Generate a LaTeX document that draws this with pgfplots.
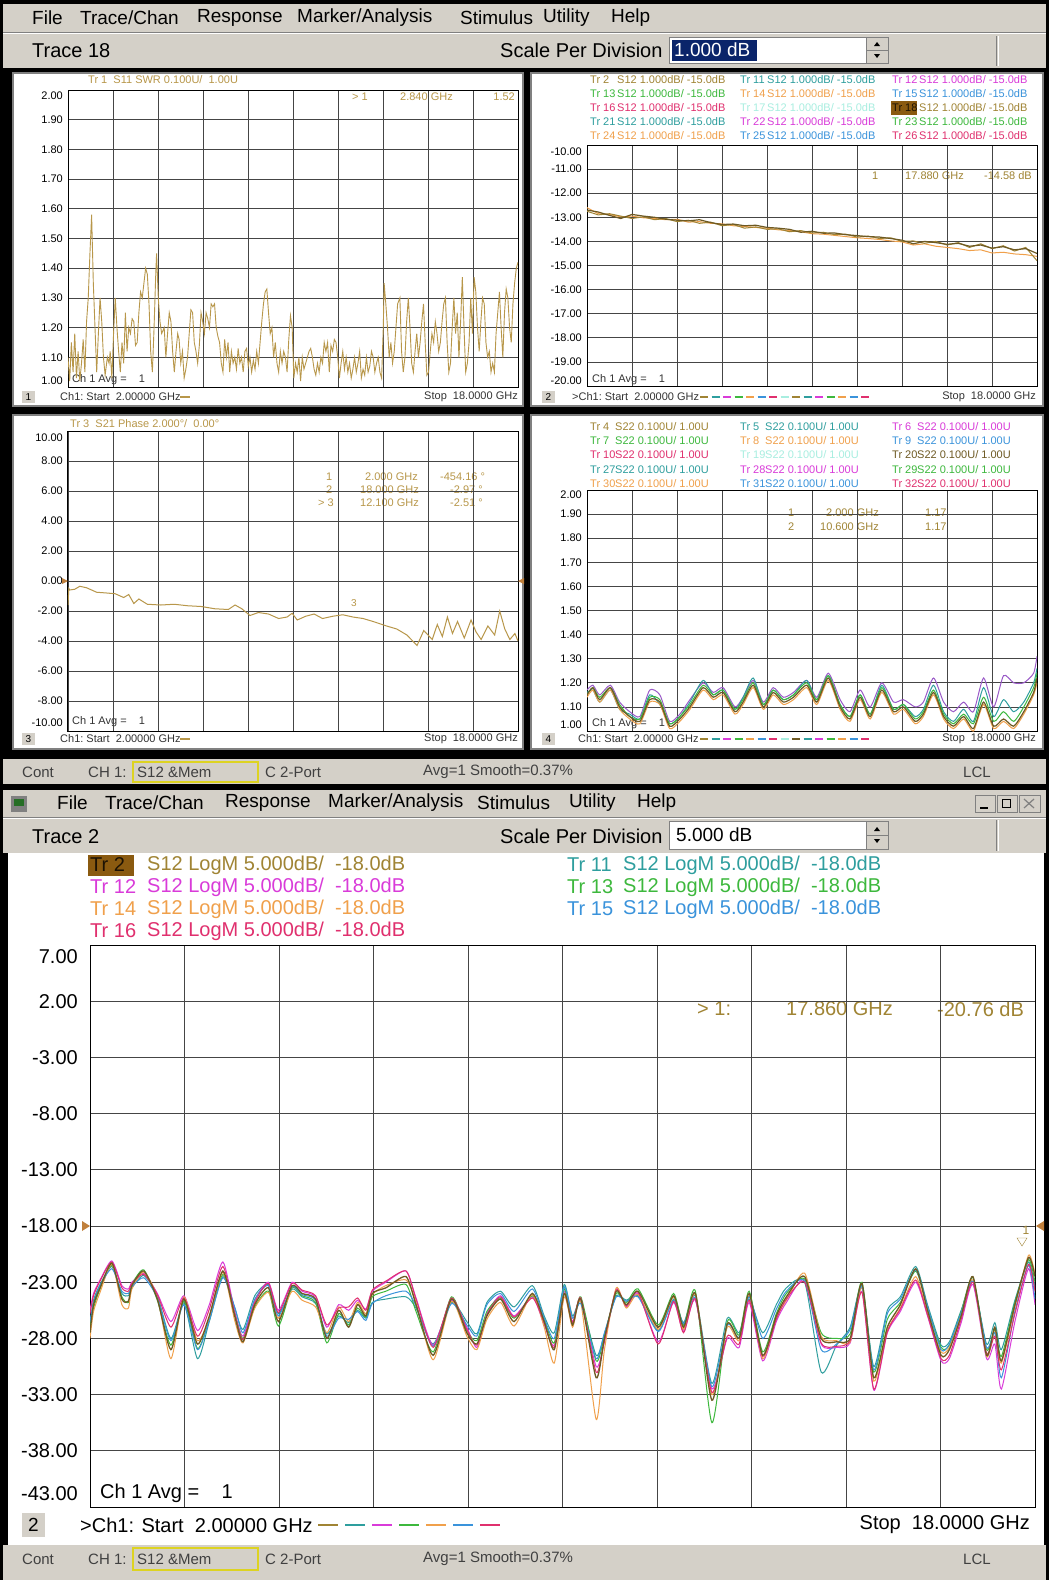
\documentclass[border=0pt]{standalone}
\usepackage{pgfplots}
\pgfplotsset{compat=1.18}
\usepackage{pgfplotstable}
\usepackage{fontspec}
\setmainfont{Liberation Sans}
\newcommand\fs[1]{\fontsize{#1}{#1}\selectfont}
\definecolor{ui}{HTML}{D4D0C8}
\definecolor{uidark}{HTML}{808080}
\definecolor{gridc}{HTML}{454545}
\definecolor{cbrown}{HTML}{A08434}
\definecolor{cdbrown}{HTML}{6E5A24}
\definecolor{cteal}{HTML}{2E9E9E}
\definecolor{cmag}{HTML}{D93BD9}
\definecolor{cgreen}{HTML}{3DB83D}
\definecolor{corange}{HTML}{F0A04B}
\definecolor{cblue}{HTML}{3A93DB}
\definecolor{ccrim}{HTML}{E0306E}
\definecolor{cpale}{HTML}{A8EEE0}
\definecolor{cpurple}{HTML}{9A5AC8}
\definecolor{ctrace}{HTML}{B8974A}
\definecolor{hibrown}{HTML}{8A5A10}
\definecolor{selblue}{HTML}{0A246A}

% ---- bottom chart: S12 LogM traces (GHz, dB) ----
\pgfplotstableread{
x a b c d e f g
2.00 -27.5 -26.8 -25.5 -27.0 -28.0 -26.5 -25.8
2.06 -25.0 -24.6 -24.0 -25.3 -25.6 -24.8 -24.2
2.17 -23.5 -23.2 -22.8 -23.6 -23.9 -23.3 -22.9
2.37 -21.3 -21.6 -21.1 -21.5 -21.4 -21.8 -21.2
2.54 -24.5 -24.0 -23.3 -24.3 -25.0 -23.8 -23.5
2.65 -24.7 -24.2 -23.6 -24.8 -25.3 -24.0 -23.8
2.71 -23.3 -23.5 -23.0 -23.2 -23.6 -23.4 -23.1
2.91 -22.0 -22.4 -22.2 -21.9 -22.1 -22.6 -22.3
3.14 -24.5 -24.2 -24.0 -24.6 -24.3 -24.4 -24.1
3.37 -29.0 -28.0 -26.5 -28.6 -29.8 -28.2 -27.0
3.59 -24.5 -24.9 -24.2 -24.7 -24.3 -25.0 -24.4
3.82 -28.5 -29.8 -27.3 -28.9 -28.2 -29.0 -27.8
4.02 -26.0 -26.5 -25.0 -26.3 -26.2 -26.4 -25.4
4.25 -22.0 -22.5 -21.2 -22.3 -22.1 -22.6 -21.6
4.45 -26.0 -25.3 -25.6 -25.8 -26.4 -25.2 -25.8
4.59 -28.3 -27.2 -27.8 -28.0 -28.4 -27.5 -28.1
4.79 -25.0 -24.2 -24.6 -25.2 -25.3 -24.5 -24.8
5.02 -23.5 -23.2 -23.0 -23.8 -23.9 -23.3 -23.1
5.19 -26.5 -25.8 -25.5 -26.9 -26.2 -26.0 -25.7
5.42 -23.3 -23.6 -23.0 -23.5 -23.8 -23.4 -23.1
5.59 -24.0 -24.3 -23.8 -24.2 -24.6 -24.1 -23.7
5.82 -24.5 -24.9 -24.3 -24.8 -25.2 -24.6 -24.2
6.01 -28.0 -27.6 -27.0 -28.4 -27.5 -27.8 -26.8
6.21 -25.5 -26.0 -25.0 -25.8 -25.2 -26.2 -25.3
6.38 -27.0 -26.6 -25.5 -26.8 -26.5 -26.3 -25.2
6.53 -25.0 -25.5 -24.6 -25.3 -24.8 -25.6 -24.4
6.67 -26.0 -26.2 -25.4 -26.1 -25.8 -26.4 -25.5
6.78 -24.0 -24.8 -23.8 -24.3 -24.1 -24.9 -23.7
7.01 -23.5 -24.5 -23.0 -23.8 -23.3 -24.2 -22.9
7.35 -22.5 -24.3 -22.0 -23.2 -22.8 -23.8 -22.0
7.52 -25.0 -25.3 -24.4 -25.6 -24.8 -25.1 -24.5
7.81 -29.5 -28.5 -28.6 -29.2 -29.9 -28.7 -28.8
8.12 -24.5 -24.8 -24.6 -24.3 -24.7 -24.9 -24.4
8.38 -27.5 -26.5 -27.0 -27.3 -27.8 -26.8 -27.2
8.55 -28.5 -27.6 -28.8 -28.2 -29.0 -27.8 -28.6
8.72 -26.0 -24.8 -25.8 -25.6 -26.3 -25.0 -25.9
8.95 -24.5 -23.8 -24.2 -24.4 -24.8 -24.0 -24.3
9.18 -26.5 -25.2 -26.0 -26.2 -26.9 -25.6 -26.1
9.49 -24.0 -23.3 -24.3 -24.2 -24.1 -23.6 -24.4
9.69 -26.5 -26.0 -26.8 -26.3 -27.0 -26.2 -26.6
9.86 -29.0 -27.5 -28.6 -28.4 -30.2 -28.0 -28.8
10.03 -24.0 -23.2 -23.8 -23.6 -24.3 -23.4 -24.0
10.17 -26.8 -26.0 -26.5 -26.7 -27.0 -26.2 -26.6
10.31 -24.5 -24.7 -24.6 -24.3 -24.8 -24.9 -24.4
10.57 -31.5 -29.5 -30.5 -30.0 -35.2 -29.8 -31.0
10.71 -28.0 -27.6 -28.3 -27.8 -29.0 -27.5 -28.2
10.91 -23.8 -24.2 -23.6 -24.0 -23.5 -24.3 -23.7
11.08 -25.0 -24.6 -25.2 -24.8 -25.3 -24.7 -25.1
11.28 -23.8 -24.2 -24.0 -23.6 -24.1 -24.3 -23.9
11.62 -27.0 -27.3 -28.3 -26.8 -27.2 -27.4 -28.5
11.88 -24.2 -24.5 -24.8 -24.0 -24.3 -24.6 -24.7
12.05 -27.0 -26.6 -27.4 -26.8 -27.2 -26.7 -27.5
12.25 -24.0 -24.2 -24.6 -23.8 -24.1 -24.4 -24.5
12.53 -33.5 -32.0 -32.5 -35.5 -33.0 -32.3 -32.8
12.79 -26.7 -26.2 -28.0 -26.5 -27.0 -26.8 -27.8
12.99 -28.0 -27.5 -28.8 -27.7 -28.2 -27.9 -28.5
13.16 -24.0 -24.5 -24.8 -23.8 -24.2 -24.3 -24.6
13.39 -29.5 -27.5 -30.0 -29.2 -29.8 -28.0 -29.6
13.62 -26.0 -25.0 -26.5 -25.8 -26.2 -25.4 -26.3
13.79 -24.3 -23.5 -24.8 -24.0 -24.6 -23.8 -24.5
14.10 -22.5 -23.0 -22.8 -22.7 -22.2 -22.9 -23.0
14.38 -28.0 -31.0 -28.5 -27.5 -27.8 -29.0 -28.4
14.64 -28.3 -28.6 -28.8 -28.0 -28.2 -28.5 -28.7
14.87 -28.0 -27.0 -28.4 -27.6 -28.3 -27.2 -28.2
15.07 -23.1 -23.3 -23.8 -23.0 -23.5 -23.4 -23.9
15.27 -31.5 -30.5 -32.6 -31.0 -31.8 -30.8 -32.5
15.50 -27.0 -25.5 -27.5 -26.3 -27.3 -25.8 -27.4
15.72 -25.0 -24.3 -25.6 -24.8 -25.3 -24.5 -25.4
15.98 -21.8 -21.6 -23.0 -22.0 -22.5 -21.9 -22.8
16.18 -25.5 -25.0 -26.0 -25.3 -25.8 -25.2 -25.9
16.41 -29.5 -28.6 -30.0 -28.8 -29.2 -29.0 -29.8
16.55 -29.0 -28.3 -29.8 -28.6 -28.8 -28.5 -29.5
16.75 -26.0 -25.5 -26.6 -25.6 -25.8 -25.7 -26.3
16.95 -22.5 -23.0 -23.2 -22.6 -22.8 -22.9 -23.0
17.18 -29.5 -28.5 -29.8 -29.0 -29.6 -28.8 -29.3
17.32 -27.0 -26.6 -28.5 -27.2 -27.4 -27.5 -27.8
17.43 -30.0 -29.0 -32.5 -29.6 -30.2 -31.5 -30.8
17.66 -25.0 -24.6 -26.5 -24.8 -25.2 -25.6 -25.8
17.89 -20.8 -21.2 -21.8 -21.0 -20.6 -21.5 -21.4
18.00 -22.5 -23.5 -25.0 -23.0 -22.3 -24.5 -23.8
}\mainS

% ---- panel 2: S12 1 dB/div traces ----
\pgfplotstableread{
x a b c
2.0 -12.70 -12.60 -12.75
2.4 -12.78 -12.85 -12.90
2.8 -12.92 -12.88 -12.85
3.2 -13.05 -12.98 -12.95
3.6 -12.88 -12.95 -13.05
4.0 -12.95 -13.02 -12.98
4.4 -13.00 -13.05 -13.10
4.8 -13.08 -13.10 -13.05
5.2 -13.12 -13.08 -13.18
5.6 -13.15 -13.20 -13.12
6.0 -13.10 -13.18 -13.25
6.4 -13.22 -13.25 -13.20
6.8 -13.30 -13.27 -13.35
7.2 -13.28 -13.35 -13.30
7.6 -13.35 -13.38 -13.45
8.0 -13.33 -13.42 -13.40
8.4 -13.42 -13.45 -13.50
8.8 -13.45 -13.52 -13.48
9.2 -13.50 -13.55 -13.60
9.6 -13.62 -13.60 -13.55
10.0 -13.58 -13.68 -13.65
10.4 -13.66 -13.70 -13.62
10.8 -13.65 -13.75 -13.72
11.2 -13.72 -13.80 -13.70
11.6 -13.76 -13.85 -13.82
12.0 -13.80 -13.88 -13.78
12.4 -13.82 -13.92 -13.88
12.8 -13.88 -13.98 -13.85
13.2 -13.95 -14.02 -14.00
13.6 -14.10 -14.15 -13.98
14.0 -14.00 -14.10 -14.08
14.4 -14.05 -14.20 -14.00
14.8 -14.12 -14.25 -14.15
15.2 -14.08 -14.30 -14.05
15.6 -14.20 -14.38 -14.25
16.0 -14.15 -14.35 -14.10
16.4 -14.28 -14.48 -14.30
16.8 -14.22 -14.45 -14.18
17.2 -14.35 -14.52 -14.40
17.6 -14.30 -14.55 -14.25
18.0 -14.50 -14.62 -14.80
}\pTwo

% ---- panel 4: S22 SWR traces ----
\pgfplotstableread{
x b p t o g
2.00 1.15 1.17 1.16 1.14 1.15
2.21 1.18 1.19 1.17 1.17 1.18
2.45 1.13 1.15 1.12 1.12 1.14
2.83 1.18 1.19 1.17 1.17 1.18
3.16 1.10 1.12 1.09 1.09 1.11
3.52 1.06 1.08 1.07 1.05 1.06
3.88 1.04 1.06 1.05 1.03 1.05
4.23 1.13 1.17 1.15 1.12 1.14
4.59 1.12 1.15 1.11 1.11 1.13
4.94 1.02 1.04 1.03 1.01 1.03
5.30 1.05 1.07 1.06 1.04 1.06
5.66 1.10 1.13 1.12 1.09 1.11
6.13 1.18 1.20 1.21 1.17 1.19
6.49 1.14 1.16 1.15 1.13 1.15
6.84 1.16 1.18 1.17 1.15 1.17
7.26 1.08 1.10 1.09 1.07 1.09
7.55 1.12 1.14 1.14 1.11 1.13
7.91 1.19 1.21 1.22 1.18 1.20
8.27 1.10 1.12 1.11 1.09 1.11
8.62 1.16 1.18 1.17 1.15 1.17
8.98 1.12 1.14 1.13 1.11 1.13
9.34 1.14 1.16 1.15 1.13 1.15
9.81 1.19 1.21 1.21 1.18 1.20
10.17 1.12 1.14 1.13 1.11 1.13
10.58 1.22 1.24 1.23 1.21 1.23
11.00 1.10 1.13 1.11 1.09 1.11
11.35 1.05 1.08 1.06 1.04 1.06
11.71 1.14 1.17 1.15 1.13 1.15
12.07 1.06 1.10 1.07 1.05 1.07
12.48 1.17 1.20 1.19 1.16 1.18
12.90 1.08 1.12 1.09 1.07 1.09
13.25 1.10 1.13 1.11 1.09 1.11
13.67 1.04 1.10 1.06 1.03 1.05
13.96 1.07 1.12 1.09 1.06 1.08
14.32 1.16 1.22 1.19 1.15 1.17
14.68 1.06 1.12 1.08 1.05 1.07
15.03 1.02 1.08 1.04 1.01 1.03
15.39 1.06 1.12 1.09 1.05 1.07
15.74 1.01 1.08 1.04 1.00 1.03
16.10 1.12 1.22 1.18 1.11 1.14
16.46 1.02 1.10 1.06 1.01 1.04
16.81 1.05 1.23 1.13 1.04 1.08
17.17 1.02 1.20 1.08 1.01 1.04
17.53 1.08 1.20 1.12 1.07 1.10
17.88 1.16 1.24 1.20 1.15 1.18
18.00 1.22 1.31 1.26 1.20 1.24
}\pFour

% ---- panel 1: S11 SWR ----
\pgfplotstableread{
x y
2.00 1.10
2.06 1.02
2.12 1.15
2.18 1.05
2.24 1.18
2.30 1.03
2.36 1.12
2.42 1.02
2.48 1.08
2.54 1.16
2.60 1.05
2.66 1.22
2.72 1.30
2.78 1.45
2.84 1.58
2.90 1.35
2.96 1.20
3.02 1.05
3.08 1.18
3.14 1.30
3.20 1.22
3.26 1.10
3.32 1.04
3.40 1.10
3.46 1.08
3.50 1.12
3.56 1.03
3.62 1.18
3.68 1.30
3.74 1.20
3.80 1.12
3.86 1.05
3.92 1.15
3.98 1.08
4.04 1.25
4.10 1.12
4.16 1.20
4.22 1.18
4.28 1.23
4.34 1.22
4.40 1.14
4.46 1.15
4.52 1.25
4.58 1.32
4.64 1.30
4.70 1.35
4.76 1.40
4.82 1.38
4.88 1.28
4.94 1.12
5.00 1.05
5.06 1.20
5.12 1.38
5.15 1.45
5.21 1.30
5.27 1.22
5.33 1.18
5.42 1.20
5.48 1.10
5.54 1.18
5.60 1.25
5.66 1.22
5.72 1.12
5.78 1.05
5.84 1.12
5.90 1.18
5.95 1.16
6.01 1.08
6.07 1.12
6.13 1.03
6.19 1.06
6.25 1.10
6.31 1.18
6.37 1.26
6.43 1.25
6.49 1.15
6.55 1.12
6.61 1.08
6.67 1.14
6.73 1.25
6.79 1.22
6.85 1.18
6.91 1.25
6.97 1.23
7.03 1.20
7.09 1.28
7.15 1.27
7.21 1.28
7.27 1.20
7.33 1.17
7.39 1.15
7.45 1.08
7.51 1.05
7.57 1.16
7.63 1.10
7.69 1.15
7.75 1.05
7.81 1.12
7.87 1.08
7.93 1.10
7.99 1.06
8.05 1.13
8.11 1.08
8.17 1.10
8.23 1.05
8.29 1.12
8.35 1.13
8.41 1.07
8.47 1.10
8.53 1.05
8.59 1.09
8.65 1.06
8.71 1.12
8.77 1.08
8.83 1.15
8.89 1.22
8.95 1.28
9.01 1.32
9.07 1.33
9.13 1.25
9.19 1.18
9.25 1.20
9.31 1.10
9.37 1.15
9.43 1.08
9.49 1.05
9.55 1.12
9.61 1.08
9.67 1.12
9.73 1.10
9.79 1.05
9.85 1.16
9.91 1.24
9.97 1.20
10.03 1.03
10.09 1.08
10.15 1.05
10.21 1.10
10.27 1.02
10.33 1.10
10.39 1.06
10.45 1.08
10.51 1.10
10.57 1.12
10.63 1.13
10.69 1.10
10.75 1.06
10.81 1.04
10.87 1.08
10.93 1.05
10.99 1.10
11.05 1.08
11.11 1.15
11.17 1.12
11.23 1.15
11.29 1.05
11.35 1.14
11.41 1.12
11.47 1.16
11.53 1.15
11.59 1.10
11.65 1.03
11.71 1.08
11.77 1.12
11.83 1.06
11.89 1.10
11.95 1.05
12.01 1.08
12.07 1.03
12.13 1.06
12.19 1.10
12.25 1.05
12.31 1.08
12.37 1.12
12.43 1.03
12.49 1.06
12.55 1.04
12.61 1.10
12.67 1.05
12.73 1.07
12.79 1.12
12.85 1.10
12.91 1.05
12.97 1.08
13.03 1.10
13.09 1.05
13.15 1.03
13.21 1.20
13.24 1.35
13.30 1.28
13.36 1.20
13.42 1.10
13.48 1.15
13.54 1.08
13.60 1.12
13.66 1.20
13.72 1.28
13.80 1.30
13.86 1.12
13.92 1.05
13.98 1.10
14.04 1.22
14.10 1.30
14.16 1.20
14.22 1.08
14.28 1.05
14.34 1.12
14.40 1.18
14.46 1.10
14.52 1.15
14.58 1.22
14.64 1.28
14.70 1.15
14.76 1.04
14.82 1.05
14.88 1.12
14.94 1.18
15.00 1.15
15.06 1.22
15.12 1.18
15.18 1.12
15.24 1.15
15.30 1.22
15.36 1.28
15.42 1.30
15.48 1.15
15.54 1.05
15.60 1.08
15.66 1.20
15.72 1.30
15.78 1.18
15.84 1.25
15.90 1.10
15.96 1.22
16.02 1.37
16.08 1.20
16.14 1.05
16.20 1.08
16.26 1.15
16.32 1.30
16.38 1.18
16.44 1.37
16.50 1.32
16.56 1.20
16.62 1.12
16.68 1.22
16.74 1.30
16.80 1.28
16.86 1.15
16.92 1.10
16.98 1.12
17.04 1.05
17.10 1.08
17.16 1.05
17.22 1.18
17.28 1.25
17.34 1.32
17.40 1.20
17.46 1.10
17.52 1.25
17.58 1.33
17.64 1.30
17.70 1.20
17.76 1.15
17.82 1.28
17.88 1.35
17.94 1.40
18.00 1.42
}\pOne

% ---- panel 3: S21 phase ----
\pgfplotstableread{
x y
2.00 -1.60
2.03 -0.50
2.06 -0.60
2.24 -0.55
2.42 -0.35
2.66 -0.45
3.02 -0.75
3.38 -0.80
3.68 -0.85
3.98 -1.10
4.16 -0.90
4.34 -1.50
4.52 -1.20
4.82 -1.55
5.30 -1.60
5.78 -1.55
6.26 -1.65
6.74 -1.70
7.22 -1.85
7.70 -1.90
7.94 -1.60
8.18 -1.85
8.47 -2.30
8.77 -2.10
9.13 -2.20
9.49 -2.50
9.79 -2.40
9.97 -2.15
10.15 -2.60
10.45 -2.35
10.75 -2.20
11.05 -2.50
11.41 -2.35
11.77 -2.25
12.13 -2.40
12.49 -2.50
12.85 -2.70
13.33 -3.00
13.69 -3.20
14.05 -3.60
14.41 -4.30
14.65 -3.30
14.95 -3.90
15.13 -2.90
15.31 -3.70
15.49 -2.40
15.67 -3.50
15.85 -2.70
16.09 -3.80
16.33 -2.60
16.51 -3.40
16.69 -3.90
16.93 -3.00
17.17 -3.60
17.35 -2.00
17.53 -3.20
17.71 -3.90
17.89 -3.50
18.00 -4.00
}\pThree

\pgfplotsset{
  vna/.style={scale only axis, anchor=south west, xmin=2, xmax=18,
    xtick={2,3.6,5.2,6.8,8.4,10,11.6,13.2,14.8,16.4,18}, xticklabels={},
    grid=major, major grid style={draw=gridc, line width=0.8pt},
    axis line style={draw=black, line width=1pt},
    major tick length=0pt, scaled y ticks=false,
    /pgf/number format/assume math mode=true, clip=true},
  smallp/.style={vna, tick label style={font=\fs{11}},
    yticklabel style={inner sep=0pt, xshift=-5pt}},
}

\newcommand\tx[4]{\node[anchor=west,inner sep=0pt,text=#3] at (#1,#2) {#4};}
\newcommand\pl[4]{\node[anchor=west,inner sep=0pt,text=#3,font=\fs{11}] at (#1,#2) {#4};}
\newcommand\yl[3]{\node[anchor=east,inner sep=0pt,font=\fs{11}] at (#1,#2) {#3};}

\begin{document}
\begin{tikzpicture}
\begin{scope}[x=1pt,y=-1pt]
% background
\fill[black] (0,0) rectangle (1049,1580);
% ===== top window =====
\fill[ui] (3,4) rectangle (1046,68);
\draw[white] (3,33.5) -- (1046,33.5);
\draw[uidark] (3,32.5) -- (1046,32.5);
\begin{scope}[font=\fs{19}]
\tx{32}{18}{black}{File}
\tx{80}{18}{black}{Trace/Chan}
\tx{197}{18}{black}{Response}
\tx{297}{18}{black}{Marker/Analysis}
\tx{460}{18}{black}{Stimulus}
\tx{543}{18}{black}{Utility}
\tx{611}{18}{black}{Help}
\end{scope}
\begin{scope}[font=\fs{20}]
\tx{32}{51}{black}{Trace 18}
\tx{500}{50}{black}{Scale Per Division}
\end{scope}
\fill[white] (669,37) rectangle (866,63);
\draw[uidark] (669,37) rectangle (866,63);
\fill[selblue] (672,40) rectangle (757,61);
\node[anchor=west,inner sep=0pt,text=white,font=\fs{19}] at (674,50) {1.000 dB};
\fill[ui] (866,37) rectangle (888,63); \draw[uidark] (866,37) rectangle (888,63) (866,50)--(888,50);
\fill[black] (874,46)--(880,46)--(877,42)--cycle; \fill[black] (874,54)--(880,54)--(877,58)--cycle;
\draw[uidark,line width=1pt] (996,36)--(996,66); \draw[white,line width=1pt] (998,36)--(998,66);

% panels
\fill[white] (13,73) rectangle (523,406);
\fill[white] (531,73) rectangle (1043,406);
\fill[white] (13,415) rectangle (523,749);
\fill[white] (531,415) rectangle (1043,749);
\draw[uidark,line width=1.5pt] (13,73) rectangle (523,406) (531,73) rectangle (1043,406)
  (13,415) rectangle (523,749) (531,415) rectangle (1043,749);

% status bar top
\fill[ui] (3,759) rectangle (1046,784);
\draw[yellow!85!black,line width=1.5pt] (133,762) rectangle (258,782);
\begin{scope}[font=\fs{15}]
\tx{22}{772}{black!75}{Cont}
\tx{88}{772}{black!75}{CH 1:}
\tx{137}{772}{black!75}{S12 \&Mem}
\tx{265}{772}{black!75}{C 2-Port}
\tx{423}{772}{black!75}{Avg=1 Smooth=0.37\%}
\tx{963}{772}{black!75}{LCL}
\end{scope}

% ===== bottom window =====
\fill[ui] (3,790) rectangle (1046,853);
\draw[white] (3,818.5) -- (1046,818.5);
\draw[uidark] (3,817.5) -- (1046,817.5);
\fill[uidark] (11,796) rectangle (27,812); \fill[cgreen!60!black] (14,799) rectangle (24,806);
\begin{scope}[font=\fs{19}]
\tx{57}{803}{black}{File}
\tx{105}{803}{black}{Trace/Chan}
\tx{225}{803}{black}{Response}
\tx{328}{803}{black}{Marker/Analysis}
\tx{477}{803}{black}{Stimulus}
\tx{569}{803}{black}{Utility}
\tx{637}{803}{black}{Help}
\end{scope}
\begin{scope}[font=\fs{20}]
\tx{32}{837}{black}{Trace 2}
\tx{500}{836}{black}{Scale Per Division}
\end{scope}
\draw[uidark] (975,795) rectangle (995,812) (997,795) rectangle (1017,812) (1019,795) rectangle (1040,812);
\draw[black,line width=1.5pt] (980,808)--(988,808);
\draw[black,line width=1pt] (1002,799) rectangle (1010,807);
\draw[uidark,line width=1.2pt] (1024,799)--(1034,808) (1024,808)--(1034,799);
\fill[white] (669,821) rectangle (866,849);
\draw[uidark] (669,821) rectangle (866,849);
\node[anchor=west,inner sep=0pt,text=black,font=\fs{19}] at (676,835) {5.000 dB};
\fill[ui] (866,821) rectangle (888,849); \draw[uidark] (866,821) rectangle (888,849) (866,835)--(888,835);
\fill[black] (874,831)--(880,831)--(877,827)--cycle; \fill[black] (874,839)--(880,839)--(877,843)--cycle;
\draw[uidark,line width=1pt] (996,820)--(996,851); \draw[white,line width=1pt] (998,820)--(998,851);
\fill[white] (8,853) rectangle (1044,1545);

% legend of bottom chart
\fill[hibrown] (88,855) rectangle (134,876);
\begin{scope}[font=\fs{20}]
\tx{90}{865}{black!80!hibrown}{Tr 2}
\tx{147}{865}{cbrown}{S12 LogM 5.000dB/\ \ -18.0dB}
\tx{90}{887}{cmag}{Tr 12}
\tx{147}{887}{cmag}{S12 LogM 5.000dB/\ \ -18.0dB}
\tx{90}{909}{corange}{Tr 14}
\tx{147}{909}{corange}{S12 LogM 5.000dB/\ \ -18.0dB}
\tx{90}{931}{ccrim}{Tr 16}
\tx{147}{931}{ccrim}{S12 LogM 5.000dB/\ \ -18.0dB}
\tx{567}{865}{cteal}{Tr 11}
\tx{623}{865}{cteal}{S12 LogM 5.000dB/\ \ -18.0dB}
\tx{567}{887}{cgreen}{Tr 13}
\tx{623}{887}{cgreen}{S12 LogM 5.000dB/\ \ -18.0dB}
\tx{567}{909}{cblue}{Tr 15}
\tx{623}{909}{cblue}{S12 LogM 5.000dB/\ \ -18.0dB}
\tx{697}{1009}{cbrown}{> 1:}
\tx{786}{1009}{cbrown}{17.860 GHz}
\tx{937}{1009}{cbrown}{-20.76 dB}
\tx{100}{1493}{black}{Ch 1 Avg =\ \ \ \ 1}
\tx{80}{1525}{black}{>Ch1: Start\ \ 2.00000 GHz}
\node[anchor=east,inner sep=0pt] at (1030,1525) {Stop\ \ 18.0000 GHz};
\node[anchor=east,inner sep=0pt] at (78,957) {7.00};
\node[anchor=east,inner sep=0pt] at (78,1494) {-43.00};
\end{scope}
\fill[ui] (22,1513) rectangle (45,1537);
\node[font=\fs{19},inner sep=0pt] at (33.5,1525) {2};
\foreach \c [count=\i from 0] in {cbrown,cteal,cmag,cgreen,corange,cblue,ccrim}
  {\draw[\c,line width=2.5pt] ({318+\i*27},1525) -- ++(20,0);}

% status bar bottom
\fill[ui] (3,1545) rectangle (1046,1580);
\draw[yellow!85!black,line width=1.5pt] (133,1548) rectangle (258,1570);
\begin{scope}[font=\fs{15}]
\tx{22}{1559}{black!75}{Cont}
\tx{88}{1559}{black!75}{CH 1:}
\tx{137}{1559}{black!75}{S12 \&Mem}
\tx{265}{1559}{black!75}{C 2-Port}
\tx{423}{1559}{black!75}{Avg=1 Smooth=0.37\%}
\tx{963}{1559}{black!75}{LCL}
\end{scope}

% ---- panel 1 texts ----
\pl{88}{80}{ctrace}{Tr 1\ \ S11 SWR 0.100U/\ \ 1.00U}
\pl{352}{97}{ctrace}{> 1}
\pl{400}{97}{ctrace}{2.840 GHz}
\node[anchor=east,inner sep=0pt,text=ctrace,font=\fs{11}] at (515,97) {1.52};
\yl{63}{96}{2.00} \yl{63}{381}{1.00}
\pl{72}{380}{black!80}{Ch 1 Avg =\ \ \ \ 1}
\fill[ui] (22,391) rectangle (35,403); \node[font=\fs{10},inner sep=0pt] at (28.5,397) {1};
\pl{60}{397}{black!80}{Ch1:\ Start\ \ 2.00000 GHz}
\draw[ctrace,line width=1.5pt] (180,397)--(190,397);
\node[anchor=east,inner sep=0pt,font=\fs{11},text=black!80] at (518,397) {Stop\ \ 18.0000 GHz};

% ---- panel 2 texts ----
\pl{590}{80}{cbrown}{Tr 2}    \pl{617}{80}{cbrown}{S12 1.000dB/\ -15.0dB}
\pl{740}{80}{cteal}{Tr 11}    \pl{767}{80}{cteal}{S12 1.000dB/\ -15.0dB}
\pl{892}{80}{cmag}{Tr 12}     \pl{919}{80}{cmag}{S12 1.000dB/\ -15.0dB}
\pl{590}{94}{cgreen}{Tr 13}   \pl{617}{94}{cgreen}{S12 1.000dB/\ -15.0dB}
\pl{740}{94}{corange}{Tr 14}  \pl{767}{94}{corange}{S12 1.000dB/\ -15.0dB}
\pl{892}{94}{cblue}{Tr 15}    \pl{919}{94}{cblue}{S12 1.000dB/\ -15.0dB}
\pl{590}{108}{ccrim}{Tr 16}   \pl{617}{108}{ccrim}{S12 1.000dB/\ -15.0dB}
\pl{740}{108}{cpale}{Tr 17}   \pl{767}{108}{cpale}{S12 1.000dB/\ -15.0dB}
\fill[hibrown] (891,101) rectangle (917,115);
\pl{892}{108}{black!80!hibrown}{Tr 18}  \pl{919}{108}{cbrown}{S12 1.000dB/\ -15.0dB}
\pl{590}{122}{cteal}{Tr 21}   \pl{617}{122}{cteal}{S12 1.000dB/\ -15.0dB}
\pl{740}{122}{cmag}{Tr 22}    \pl{767}{122}{cmag}{S12 1.000dB/\ -15.0dB}
\pl{892}{122}{cgreen}{Tr 23}  \pl{919}{122}{cgreen}{S12 1.000dB/\ -15.0dB}
\pl{590}{136}{corange}{Tr 24} \pl{617}{136}{corange}{S12 1.000dB/\ -15.0dB}
\pl{740}{136}{cblue}{Tr 25}   \pl{767}{136}{cblue}{S12 1.000dB/\ -15.0dB}
\pl{892}{136}{ccrim}{Tr 26}   \pl{919}{136}{ccrim}{S12 1.000dB/\ -15.0dB}
\pl{872}{176}{cbrown}{1}
\pl{905}{176}{cbrown}{17.880 GHz}
\node[anchor=east,inner sep=0pt,text=cbrown,font=\fs{11}] at (1032,176) {-14.58 dB};
\yl{582}{152}{-10.00} \yl{582}{381}{-20.00}
\pl{592}{380}{black!80}{Ch 1 Avg =\ \ \ \ 1}
\fill[ui] (542,391) rectangle (555,403); \node[font=\fs{10},inner sep=0pt] at (548.5,397) {2};
\pl{572}{397}{black!80}{>Ch1:\ Start\ \ 2.00000 GHz}
\foreach \c [count=\i from 0] in {cbrown,cteal,cmag,cgreen,corange,cblue,ccrim,cpale,cbrown,cteal,cmag,cgreen,corange,cblue,ccrim}
  {\draw[\c,line width=1.8pt] ({700+\i*11.5},397) -- ++(8,0);}
\node[anchor=east,inner sep=0pt,font=\fs{11},text=black!80] at (1036,397) {Stop\ \ 18.0000 GHz};

% ---- panel 3 texts ----
\pl{70}{424}{ctrace}{Tr 3\ \ S21 Phase 2.000°/\ \ 0.00°}
\pl{326}{477}{ctrace}{1}   \pl{365}{477}{ctrace}{2.000 GHz}  \pl{440}{477}{ctrace}{-454.16 °}
\pl{326}{490}{ctrace}{2}   \pl{360}{490}{ctrace}{18.000 GHz} \pl{450}{490}{ctrace}{-2.97 °}
\pl{318}{503}{ctrace}{> 3} \pl{360}{503}{ctrace}{12.100 GHz} \pl{450}{503}{ctrace}{-2.51 °}
\yl{63}{438}{10.00} \yl{63}{723}{-10.00}
\pl{72}{722}{black!80}{Ch 1 Avg =\ \ \ \ 1}
\fill[ui] (22,733) rectangle (35,745); \node[font=\fs{10},inner sep=0pt] at (28.5,739) {3};
\pl{60}{739}{black!80}{Ch1:\ Start\ \ 2.00000 GHz}
\draw[ctrace,line width=1.5pt] (180,739)--(190,739);
\node[anchor=east,inner sep=0pt,font=\fs{11},text=black!80] at (518,739) {Stop\ \ 18.0000 GHz};

% ---- panel 4 texts ----
\pl{590}{427}{cbrown}{Tr 4}   \pl{615}{427}{cbrown}{S22 0.100U/\ 1.00U}
\pl{740}{427}{cteal}{Tr 5}    \pl{765}{427}{cteal}{S22 0.100U/\ 1.00U}
\pl{892}{427}{cmag}{Tr 6}     \pl{917}{427}{cmag}{S22 0.100U/\ 1.00U}
\pl{590}{441}{cgreen}{Tr 7}   \pl{615}{441}{cgreen}{S22 0.100U/\ 1.00U}
\pl{740}{441}{corange}{Tr 8}  \pl{765}{441}{corange}{S22 0.100U/\ 1.00U}
\pl{892}{441}{cblue}{Tr 9}    \pl{917}{441}{cblue}{S22 0.100U/\ 1.00U}
\pl{590}{455}{ccrim}{Tr 10}   \pl{615}{455}{ccrim}{S22 0.100U/\ 1.00U}
\pl{740}{455}{cpale}{Tr 19}   \pl{765}{455}{cpale}{S22 0.100U/\ 1.00U}
\pl{892}{455}{cdbrown}{Tr 20} \pl{917}{455}{cdbrown}{S22 0.100U/\ 1.00U}
\pl{590}{470}{cteal}{Tr 27}   \pl{615}{470}{cteal}{S22 0.100U/\ 1.00U}
\pl{740}{470}{cmag}{Tr 28}    \pl{765}{470}{cmag}{S22 0.100U/\ 1.00U}
\pl{892}{470}{cgreen}{Tr 29}  \pl{917}{470}{cgreen}{S22 0.100U/\ 1.00U}
\pl{590}{484}{corange}{Tr 30} \pl{615}{484}{corange}{S22 0.100U/\ 1.00U}
\pl{740}{484}{cblue}{Tr 31}   \pl{765}{484}{cblue}{S22 0.100U/\ 1.00U}
\pl{892}{484}{ccrim}{Tr 32}   \pl{917}{484}{ccrim}{S22 0.100U/\ 1.00U}
\pl{788}{513}{cbrown}{1}  \pl{826}{513}{cbrown}{2.000 GHz}  \pl{925}{513}{cbrown}{1.17}
\pl{788}{527}{cbrown}{2}  \pl{820}{527}{cbrown}{10.600 GHz} \pl{925}{527}{cbrown}{1.17}
\yl{582}{495}{2.00} \yl{582}{725}{1.00}
\pl{592}{724}{black!80}{Ch 1 Avg =\ \ \ \ 1}
\fill[ui] (542,733) rectangle (555,745); \node[font=\fs{10},inner sep=0pt] at (548.5,739) {4};
\pl{578}{739}{black!80}{Ch1:\ Start\ \ 2.00000 GHz}
\foreach \c [count=\i from 0] in {cbrown,cteal,cmag,cgreen,corange,cblue,ccrim,cpale,cdbrown,cteal,cmag,cgreen,corange,cblue,ccrim}
  {\draw[\c,line width=1.8pt] ({700+\i*11.5},739) -- ++(8,0);}
\node[anchor=east,inner sep=0pt,font=\fs{11},text=black!80] at (1036,739) {Stop\ \ 18.0000 GHz};
\end{scope}

% ===== axes =====
% panel 1
\begin{axis}[smallp, at={(68pt,-387pt)}, width=450pt, height=297pt,
  ymin=1, ymax=2, ytick={1,1.1,1.2,1.3,1.4,1.5,1.6,1.7,1.8,1.9,2},
  yticklabels={,1.10,1.20,1.30,1.40,1.50,1.60,1.70,1.80,1.90,}]
\addplot[ctrace, line width=0.9pt] table[x=x,y=y] {\pOne};
\end{axis}
% panel 2
\begin{axis}[smallp, at={(587pt,-386pt)}, width=450pt, height=241pt,
  ymin=-20, ymax=-10, ytick={-20,-19,-18,-17,-16,-15,-14,-13,-12,-11,-10},
  yticklabels={,-19.00,-18.00,-17.00,-16.00,-15.00,-14.00,-13.00,-12.00,-11.00,}]
\addplot[corange, line width=1pt] table[x=x,y=b] {\pTwo};
\addplot[cbrown, line width=1pt] table[x=x,y=c] {\pTwo};
\addplot[cdbrown, line width=1.2pt] table[x=x,y=a] {\pTwo};
\end{axis}
% panel 3
\begin{axis}[smallp, at={(68pt,-731pt)}, width=450pt, height=300pt,
  ymin=-10, ymax=10, ytick={-10,-8,-6,-4,-2,0,2,4,6,8,10},
  yticklabels={,-8.00,-6.00,-4.00,-2.00,0.00,2.00,4.00,6.00,8.00,}]
\addplot[ctrace, line width=1pt] table[x=x,y=y] {\pThree};
\end{axis}
% panel 4
\begin{axis}[smallp, at={(587pt,-731pt)}, width=450pt, height=241pt,
  ymin=1, ymax=2, ytick={1,1.1,1.2,1.3,1.4,1.5,1.6,1.7,1.8,1.9,2},
  yticklabels={,1.10,1.20,1.30,1.40,1.50,1.60,1.70,1.80,1.90,}]
\addplot[cpurple, line width=1pt, smooth, tension=0.4] table[x=x,y=p] {\pFour};
\addplot[cteal, line width=1pt, smooth, tension=0.4] table[x=x,y=t] {\pFour};
\addplot[cgreen, line width=1pt, smooth, tension=0.4] table[x=x,y=g] {\pFour};
\addplot[corange, line width=1pt, smooth, tension=0.4] table[x=x,y=o] {\pFour};
\addplot[cdbrown, line width=1.2pt, smooth, tension=0.4] table[x=x,y=b] {\pFour};
\end{axis}
% bottom chart
\begin{axis}[vna, at={(90pt,-1507pt)}, width=945pt, height=562pt,
  ymin=-43, ymax=7, ytick={-43,-38,-33,-28,-23,-18,-13,-8,-3,2,7},
  yticklabels={,-38.00,-33.00,-28.00,-23.00,-18.00,-13.00,-8.00,-3.00,2.00,},
  major grid style={draw=gridc, line width=1pt},
  tick label style={font=\fs{20}}, yticklabel style={inner sep=0pt, xshift=-12pt}]
\addplot[cteal, line width=1pt, smooth, tension=0.4] table[x=x,y=b] {\mainS};
\addplot[cmag, line width=1pt, smooth, tension=0.4] table[x=x,y=c] {\mainS};
\addplot[cgreen, line width=1pt, smooth, tension=0.4] table[x=x,y=d] {\mainS};
\addplot[corange, line width=1pt, smooth, tension=0.4] table[x=x,y=e] {\mainS};
\addplot[cblue, line width=1pt, smooth, tension=0.4] table[x=x,y=f] {\mainS};
\addplot[ccrim, line width=1pt, smooth, tension=0.4] table[x=x,y=g] {\mainS};
\addplot[cdbrown, line width=1.3pt, smooth, tension=0.4] table[x=x,y=a] {\mainS};
\end{axis}

\begin{scope}[x=1pt,y=-1pt]
\fill[corange!80!black] (82,1221)--(90,1226)--(82,1231)--cycle;
\fill[corange!80!black] (1044,1221)--(1036,1226)--(1044,1231)--cycle;
\node[font=\fs{12},text=cbrown,inner sep=0pt] at (1026,1230) {1};
\draw[cbrown] (1017,1238)--(1027,1238)--(1022,1246)--cycle;
\fill[corange!80!black] (62,578)--(68,581)--(62,584)--cycle;
\fill[corange!80!black] (524,578)--(518,581)--(524,584)--cycle;
\node[font=\fs{10},text=ctrace,inner sep=0pt] at (354,603) {3};
\end{scope}
\pgfresetboundingbox
\useasboundingbox (0,0) rectangle (1049pt,-1580pt);
\end{tikzpicture}
\end{document}
